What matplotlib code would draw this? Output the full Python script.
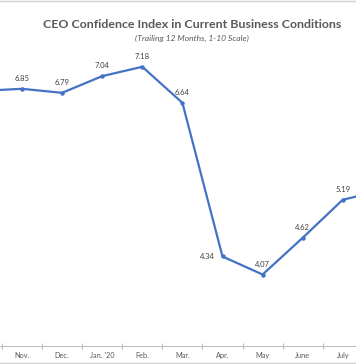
import numpy as np
import matplotlib.pyplot as plt

months = ['Oct.', 'Nov.', 'Dec.', "Jan. '20", 'Feb.', 'Mar.', 'Apr.', 'May', 'June', 'July', 'Aug.']
index_vals = [6.82, 6.85, 6.79, 7.04, 7.18, 6.64, 4.34, 4.07, 4.62, 5.19, 5.33]
labelled = ['6.85', '6.79', '7.04', '7.18', '6.64', '4.34', '4.07', '4.62', '5.19']

fig = plt.figure(figsize=(3.56, 3.64), dpi=100)
ax = fig.add_axes([0, 18 / 364, 1, (346 - 12) / 364])

x = np.arange(len(months))
ax.plot(x, index_vals, color='#4472C4', lw=1.6, marker='o', ms=2.2, zorder=3)

for i, v in enumerate(index_vals):
    t = '%.2f' % v
    if t not in labelled:
        continue
    if t == '4.34':
        ax.annotate(t, (i, v), xytext=(-11, 0), textcoords='offset points',
                    ha='center', va='center', fontsize=5.5, color='#404040', family='Lato')
    else:
        ax.annotate(t, (i, v), xytext=(0, 5), textcoords='offset points',
                    ha='center', va='bottom', fontsize=5.5, color='#404040', family='Lato')

# only Nov..July fall inside the cropped view
ax.set_xticks(x[1:-1])
ax.set_xticklabels(months[1:-1], fontsize=5.3, color='#595959', family='Lato')
ax.set_xticks(x[:-1] + 0.5, minor=True)
ax.tick_params(axis='x', which='major', length=0, pad=4)
ax.tick_params(axis='x', which='minor', length=4, direction='inout', color='#BFBFBF', width=0.8)
ax.set_yticks([])
ax.set_xlim(1 - 22 / 40.1, 1 + 334 / 40.1)
ax.set_ylim(3, 8)
for s in ['top', 'left', 'right']:
    ax.spines[s].set_visible(False)
ax.spines['bottom'].set_color('#BFBFBF')
ax.spines['bottom'].set_linewidth(0.8)

fig.text(192 / 356, 1 - 24 / 364, 'CEO Confidence Index in Current Business Conditions',
         ha='center', va='center', fontsize=8.9, fontweight='bold', color='#595959', family='Lato')
fig.text(192 / 356, 1 - 38 / 364, '(Trailing 12 Months, 1-10 Scale)',
         ha='center', va='center', fontsize=6.1, style='italic', color='#595959', family='Lato')

# frame lines at top and bottom of the crop
fig.add_artist(plt.Line2D([0, 1], [1 - 1 / 364, 1 - 1 / 364], color='#D0D0D0', lw=1))
fig.add_artist(plt.Line2D([0, 1], [1.5 / 364, 1.5 / 364], color='#D0D0D0', lw=1))

fig.savefig('out.png', dpi=100)
